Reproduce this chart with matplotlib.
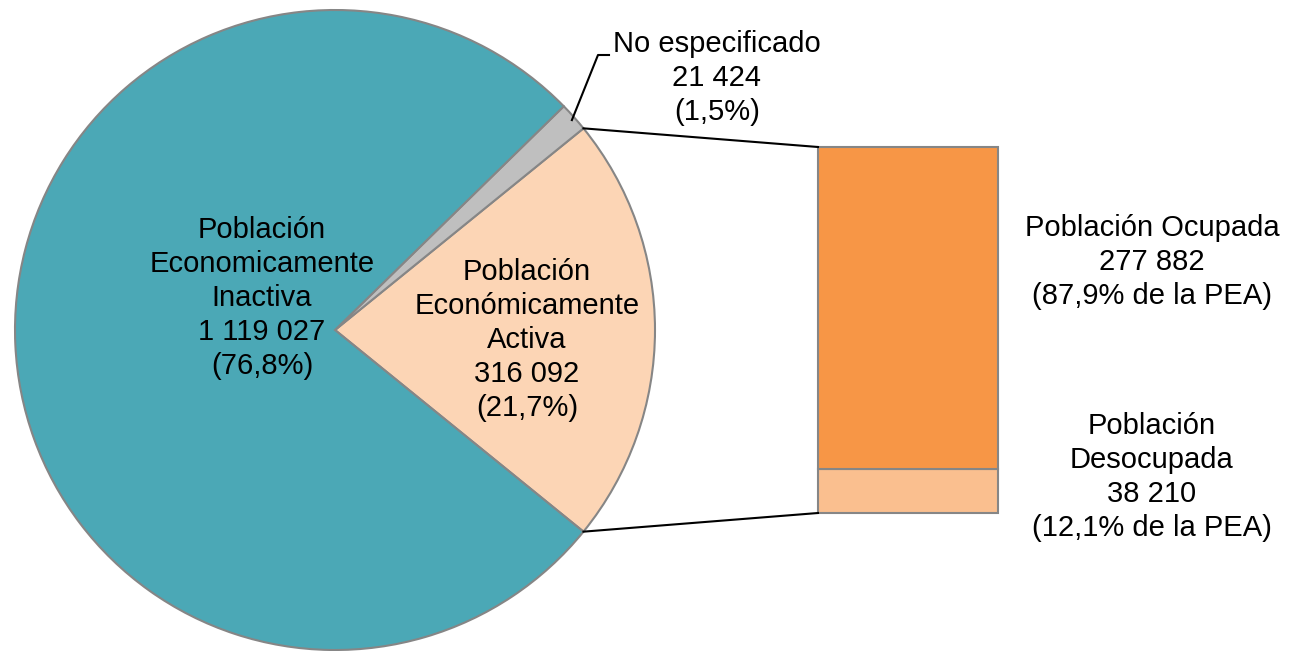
import numpy as np
import matplotlib.pyplot as plt

plt.rcParams['font.family'] = ['Liberation Sans', 'DejaVu Sans']

# pie data
pie_labels = ['Población\nEconómicamente\nActiva', 'No especificado', 'Población\nEconomicamente\nInactiva']
pie_values = [316092, 21424, 1119027]
pie_pct = ['21,7%', '1,5%', '76,8%']
pie_colors = ['#FCD5B5', '#BFBFBF', '#4BA8B6']

# bar data (PEA split)
bar_labels = ['Población\nDesocupada', 'Población Ocupada']
bar_values = [38210, 277882]
bar_pct = ['12,1% de la PEA', '87,9% de la PEA']
bar_colors = ['#FABF8F', '#F79646']


def fmt(n):
    return f'{n:,}'.replace(',', ' ')


W, H = 1289, 651
fig = plt.figure(figsize=(W / 100, H / 100), dpi=100)
ax = fig.add_axes([0, 0, 1, 1])

cx, cy, r = 335, 321, 320
total = sum(pie_values)
half = pie_values[0] / total * 360 / 2
ax.pie(pie_values, colors=pie_colors, startangle=-half, counterclock=True,
       center=(cx, cy), radius=r, frame=True,
       wedgeprops=dict(edgecolor='#868686', linewidth=1.5))
ax.set_xlim(0, W)
ax.set_ylim(0, H)
ax.set_aspect('equal')
ax.axis('off')

fs = 21
ls = 1.28
# labels inside pie
ax.text(262, 651 - 298, f'{pie_labels[2]}\n{fmt(pie_values[2])}\n({pie_pct[2]})',
        ha='center', va='center', fontsize=fs, linespacing=ls)
ax.text(527, 651 - 340, f'{pie_labels[0]}\n{fmt(pie_values[0])}\n({pie_pct[0]})',
        ha='center', va='center', fontsize=fs, linespacing=ls)
ax.text(717, 651 - 78, f'{pie_labels[1]}\n{fmt(pie_values[1])}\n({pie_pct[1]})',
        ha='center', va='center', fontsize=fs, linespacing=ls)

# leader line for "No especificado"
mid = np.deg2rad(half + pie_values[1] / total * 360 / 2)
ax.plot([cx + r * np.cos(mid) - 2, 598, 609], [cy + r * np.sin(mid) - 3, 651 - 55, 651 - 55],
        color='black', lw=1.5)

# stacked bar
bx, bw = 818, 180
bottom_y = 651 - 513
scale = 366 / sum(bar_values)
b = bottom_y
for v, c in zip(bar_values, bar_colors):
    ax.bar(bx + bw / 2, v * scale, width=bw, bottom=b, color=c, edgecolor='#868686', linewidth=1.5)
    b += v * scale
top_y = b

ax.text(1152, 651 - 262, f'{bar_labels[1]}\n{fmt(bar_values[1])}\n({bar_pct[1]})',
        ha='center', va='center', fontsize=fs, linespacing=ls)
ax.text(1152, 651 - 477, f'{bar_labels[0]}\n{fmt(bar_values[0])}\n({bar_pct[0]})',
        ha='center', va='center', fontsize=fs, linespacing=ls)

# connector lines
a = np.deg2rad(half)
ax.plot([cx + r * np.cos(a), bx], [cy + r * np.sin(a), top_y], color='black', lw=1.5)
ax.plot([cx + r * np.cos(-a), bx], [cy + r * np.sin(-a), bottom_y], color='black', lw=1.5)

fig.savefig('out.png', dpi=100)
